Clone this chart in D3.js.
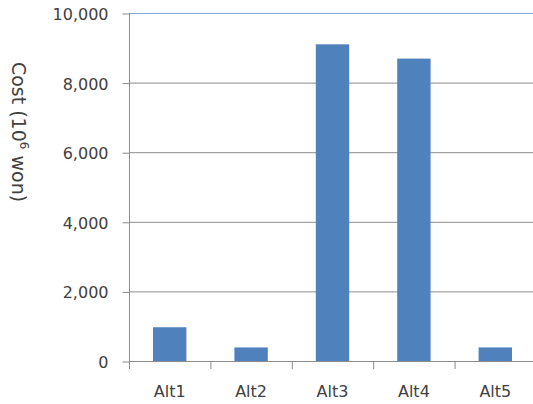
<!DOCTYPE html>
<html><head><meta charset="utf-8">
<script src="https://cdn.jsdelivr.net/npm/d3@7"></script>
<style>body{margin:0;background:#fff}svg{display:block}</style>
</head><body>
<svg id="c" width="533" height="404"></svg>
<script>
const categories = ["Alt1","Alt2","Alt3","Alt4","Alt5"];
const costs = [970, 390, 9100, 8690, 390];
const yTicks = [0, 2000, 4000, 6000, 8000, 10000];

const svg = d3.select("#c");
const m = {left:129, top:13, bottom:361, right:536};
const x = d3.scaleBand().domain(categories).range([m.left, m.right]).paddingInner(0.59).paddingOuter(0.295);
const xb = d3.scaleBand().domain(categories).range([m.left, m.right]);
const y = d3.scaleLinear().domain([0,10000]).range([m.bottom, m.top]);
const font = "'DejaVu Sans', Verdana, sans-serif";

// gridlines
svg.append("g").selectAll("line").data(yTicks).join("line")
  .attr("x1", m.left).attr("x2", m.right)
  .attr("y1", d=>y(d)+0.5).attr("y2", d=>y(d)+0.5)
  .attr("stroke", d=> d===10000 ? "#8eaad6" : "#8c8c8c").attr("stroke-width",1);

// y axis
const ya = svg.append("g").attr("transform",`translate(${m.left+0.5},0)`)
  .call(d3.axisLeft(y).tickValues(yTicks).tickSize(7).tickPadding(14).tickFormat(d3.format(",")));
ya.select(".domain").attr("stroke","#8c8c8c").attr("d",`M-0,${m.top}V${m.bottom+1}`);
ya.selectAll(".tick line").attr("stroke","#8c8c8c").attr("transform","translate(0,0.5)");
ya.selectAll("text").attr("font-family",font).attr("font-size",16).attr("fill","#404040").attr("dy","0.4em");

// x axis
const xa = svg.append("g").attr("transform",`translate(0,${m.bottom+0.5})`)
  .call(d3.axisBottom(xb).tickSize(0).tickPadding(24));
xa.select(".domain").remove();
xa.selectAll("text").attr("font-family",font).attr("font-size",16).attr("fill","#404040");
svg.append("g").selectAll("line").data(categories).join("line")
  .attr("x1", d=>xb(d)+0.5).attr("x2", d=>xb(d)+0.5)
  .attr("y1", m.bottom).attr("y2", m.bottom+8).attr("stroke","#8c8c8c");

// bars
svg.append("g").selectAll("rect").data(costs).join("rect")
  .attr("x",(d,i)=>x(categories[i])).attr("width",x.bandwidth())
  .attr("y",d=>y(d)).attr("height",d=>m.bottom-y(d))
  .attr("fill","#4f81bd");

// y label
const lab = svg.append("text").attr("transform","translate(12,132) rotate(90)")
  .attr("text-anchor","middle").attr("font-family",font).attr("font-size",19).attr("fill","#404040");
lab.append("tspan").text("Cost (10");
lab.append("tspan").attr("font-size",12).attr("dy",-8).text("6");
lab.append("tspan").attr("dy",8).text(" won)");
</script>
</body></html>
